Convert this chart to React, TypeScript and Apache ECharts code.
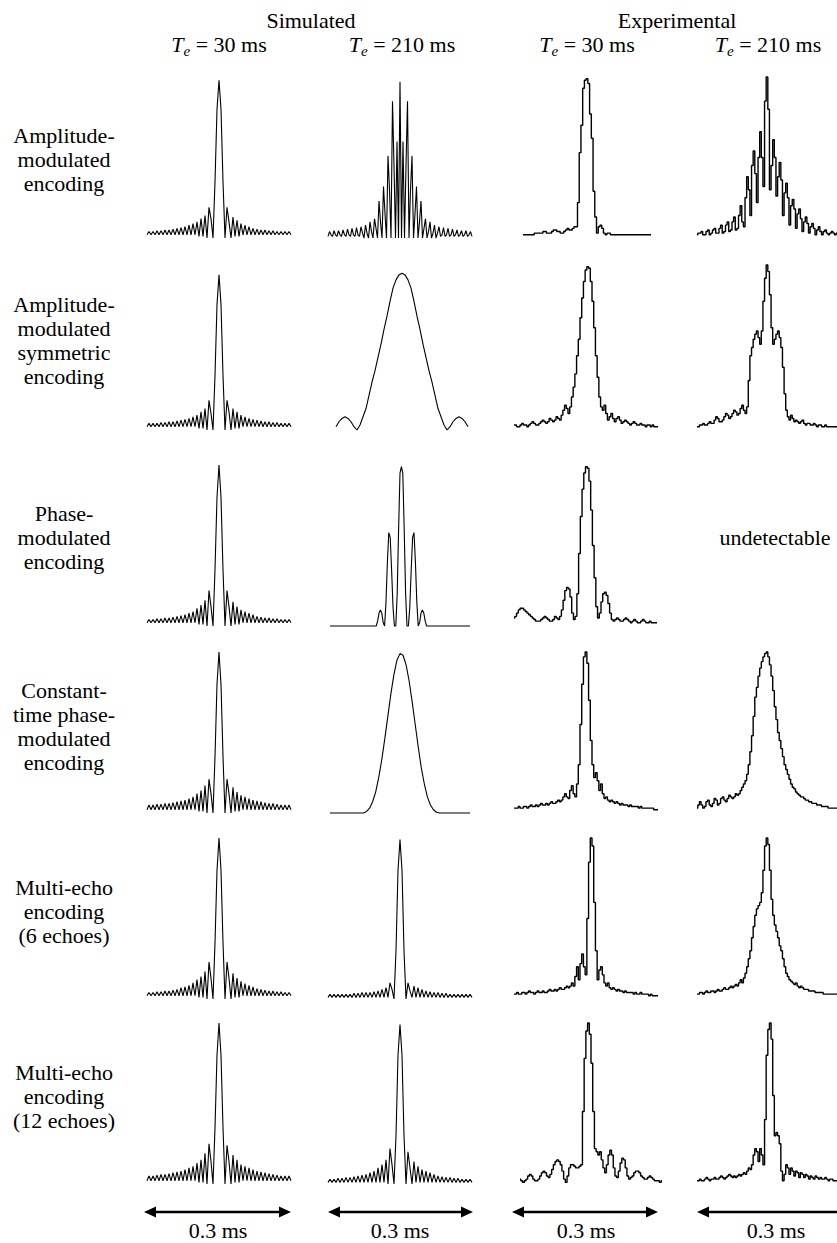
import React, { useEffect, useRef } from "react";
import * as echarts from "echarts";

// ---------- texts ----------
const GROUP_LABELS = ["Simulated", "Experimental"];
const ECHO_TIMES = ["30", "210", "30", "210"];
const ROW_LABELS = [
  "Amplitude-\nmodulated\nencoding",
  "Amplitude-\nmodulated\nsymmetric\nencoding",
  "Phase-\nmodulated\nencoding",
  "Constant-\ntime phase-\nmodulated\nencoding",
  "Multi-echo\nencoding\n(6 echoes)",
  "Multi-echo\nencoding\n(12 echoes)",
];
const SCALE_LABEL = "0.3 ms";
const MISSING_LABEL = "undetectable";

// ---------- data (normalised signal, sampled evenly across each panel) ----------
// Row 1: amplitude-modulated encoding
const amSim30 = [0.02,0.04,0.02,0.04,0.02,0.045,0.02,0.045,0.02,0.05,0.02,0.05,0.02,0.055,0.02,0.06,0.02,0.065,0.02,0.07,0.02,0.08,0.02,0.09,0.02,0.1,0.01,0.12,0.01,0.14,0.0,0.19,0.12,0.0,0.35,0.8,0.98,0.8,0.35,0.0,0.19,0.1,0.0,0.13,0.01,0.11,0.01,0.09,0.02,0.08,0.02,0.07,0.02,0.06,0.02,0.055,0.02,0.05,0.02,0.05,0.02,0.045,0.02,0.045,0.02,0.04,0.02,0.04,0.02,0.04,0.02,0.04,0.02];
const amSim210 = [0.01,0.04,0.02,0.01,0.045,0.02,0.01,0.045,0.02,0.01,0.05,0.02,0.01,0.055,0.02,0.01,0.06,0.02,0.01,0.065,0.02,0.01,0.07,0.03,0.0,0.08,0.03,0.0,0.1,0.04,
  0.0,0.12,0.06,0.0,0.23,0.1,0.0,0.32,0.15,0.0,0.51,0.3,0.0,0.85,0.45,0.0,0.6,0.0,0.97,0.0,0.6,0.0,0.45,0.85,0.0,0.3,0.51,0.0,0.15,0.32,0.0,0.1,0.23,0.0,0.06,0.12,0.0,
  0.04,0.1,0.0,0.03,0.08,0.0,0.03,0.07,0.01,0.02,0.065,0.01,0.02,0.06,0.01,0.02,0.055,0.01,0.02,0.05,0.01,0.02,0.045,0.01,0.02,0.045,0.01,0.02,0.04,0.01];
const amExp30 = [0.02,0.02,0.02,0.02,0.02,0.02,0.02,0.03,0.03,0.03,0.03,0.03,0.04,0.04,0.03,0.03,0.03,0.04,0.05,0.05,0.04,0.04,0.03,0.03,0.04,0.05,0.06,0.05,0.05,0.06,
  0.07,0.07,0.22,0.53,0.7,0.93,0.98,0.99,0.96,0.77,0.62,0.29,0.13,
  0.03,0.07,0.08,0.06,0.03,0.02,0.03,0.03,0.02,0.02,0.02,0.02,0.02,0.02,0.02,0.02,0.02,0.02,0.02,0.02,0.02,0.02,0.02,0.02,0.02,0.02,0.02,0.02,0.02,0.02,0.02,0.02];
const amExp210 = [0.02,0.03,0.03,0.04,0.02,0.02,0.04,0.05,0.02,0.03,0.05,0.06,0.03,0.03,0.06,0.08,0.03,0.04,0.08,0.1,0.04,0.05,0.1,0.13,0.05,0.06,0.14,0.2,0.1,0.07,
  0.25,0.38,0.3,0.14,0.45,0.54,0.4,0.22,0.5,0.66,0.5,0.32,0.85,1.0,0.8,0.3,0.45,0.61,0.5,0.26,0.38,0.47,0.36,0.14,0.28,0.34,0.25,0.08,0.2,0.24,
  0.18,0.06,0.15,0.18,0.12,0.04,0.1,0.13,0.09,0.03,0.07,0.09,0.06,0.02,0.05,0.07,0.04,0.02,0.04,0.05,0.03,0.02,0.03,0.04,0.03,0.02,0.03];

// Row 2: amplitude-modulated symmetric encoding
const symSim30 = [0.02,0.04,0.02,0.04,0.02,0.04,0.02,0.045,0.02,0.045,0.02,0.05,0.02,0.05,0.02,0.055,0.02,0.06,0.02,0.065,0.02,0.07,0.02,0.08,0.02,0.09,0.01,0.11,0.01,0.13,0.0,0.18,0.1,0.0,0.33,0.76,0.94,0.76,0.33,0.0,0.18,0.11,0.0,0.13,0.01,0.11,0.01,0.09,0.02,0.08,0.02,0.07,0.02,0.065,0.02,0.06,0.02,0.055,0.02,0.05,0.02,0.05,0.02,0.045,0.02,0.045,0.02,0.04,0.02,0.04,0.02,0.04,0.02];
const symSim210 = [0.02,0.05,0.07,0.08,0.07,0.05,0.02,0.0,0.03,0.08,0.13,0.21,0.29,0.36,0.44,0.52,0.61,0.69,0.78,0.86,0.91,0.94,0.95,0.94,0.91,0.86,0.78,0.69,0.61,0.52,0.44,0.36,0.29,0.21,0.13,0.08,0.03,0.0,0.02,0.05,0.07,0.08,0.07,0.05,0.02];
const symExp30 = [0.03,0.03,0.02,0.02,0.03,0.04,0.03,0.03,0.02,0.03,0.04,0.05,0.04,0.03,0.03,0.04,0.05,0.06,0.05,0.04,0.05,0.07,0.06,0.05,0.06,0.08,0.07,0.06,0.09,0.12,
  0.15,0.13,0.1,0.14,0.2,0.26,0.34,
  0.45,0.55,0.68,0.8,0.9,0.97,0.99,0.98,0.9,0.78,0.62,0.45,
  0.32,0.2,0.14,0.12,0.15,0.1,0.06,0.08,0.1,0.07,0.05,0.07,
  0.08,0.06,0.04,0.05,0.06,0.05,0.04,0.03,0.04,0.05,0.04,0.03,0.03,0.04,0.03,0.03,0.02,0.03,0.03,0.02,0.03,0.02,0.02,0.02];
const symExp210 = [0.02,0.02,0.03,0.03,0.04,0.03,0.03,0.04,0.05,0.04,0.04,0.06,0.08,0.07,0.05,0.05,0.06,0.08,0.1,0.09,0.07,0.08,0.1,0.12,0.11,
  0.09,0.1,0.13,0.15,0.12,0.1,0.14,
  0.3,0.45,0.5,0.55,0.58,0.6,0.56,
  0.52,0.6,0.78,0.92,1.0,0.96,0.82,0.62,0.52,0.55,
  0.58,0.6,0.56,0.5,0.38,0.22,0.12,0.08,
  0.06,0.09,0.07,0.05,0.06,0.05,0.04,0.05,0.06,0.04,0.03,0.04,0.04,0.03,0.03,0.04,0.03,0.02,0.03,0.03,0.02,0.02,0.03,0.02,0.02,0.02,0.02,0.02,0.02,0.02];

// Row 3: phase-modulated encoding
const phSim30 = [0.02,0.04,0.02,0.04,0.02,0.045,0.02,0.045,0.02,0.05,0.02,0.05,0.02,0.055,0.02,0.06,0.02,0.065,0.02,0.07,0.02,0.08,0.02,0.09,0.02,0.11,0.01,0.13,0.01,0.16,0.0,0.22,0.12,0.0,0.35,0.8,1.0,0.8,0.35,0.0,0.22,0.12,0.0,0.15,0.01,0.12,0.01,0.1,0.02,0.09,0.02,0.08,0.02,0.07,0.02,0.06,0.02,0.055,0.02,0.05,0.02,0.05,0.02,0.045,0.02,0.045,0.02,0.04,0.02,0.04,0.02,0.04,0.02];
const phSim210 = [0,0,0,0,0,0,0,0,0,0,0,0,0,0,0,0,0,0,0,0,0,0,0,0,0,0,0,0,0,0,0,0,0,0,
  0.03,0.08,0.1,0.08,0.02,0.0,
  0.15,0.4,0.58,0.55,0.35,0.12,0.0,0.0,
  0.2,0.6,0.95,0.99,0.95,0.6,0.2,0.0,
  0.0,0.12,0.35,0.55,0.58,0.4,0.15,0.0,
  0.02,0.08,0.1,0.08,0.03,
  0,0,0,0,0,0,0,0,0,0,0,0,0,0,0,0,0,0,0,0,0,0,0,0,0,0,0,0,0,0,0,0];
const phExp30 = [0.05,0.06,0.08,0.1,0.11,0.11,0.1,0.09,0.08,0.07,0.06,0.05,0.04,0.03,0.03,0.03,0.04,0.05,0.06,0.05,
  0.04,0.03,0.03,0.04,0.06,0.05,0.04,0.06,
  0.1,0.16,0.22,0.24,0.23,0.18,0.08,
  0.04,0.06,0.2,
  0.45,0.68,0.85,0.95,0.99,0.98,0.9,0.72,0.5,0.3,0.12,
  0.05,0.08,
  0.15,0.2,0.21,0.19,0.14,0.08,0.04,
  0.03,0.04,0.05,0.04,0.03,0.03,0.04,0.05,0.04,0.03,0.02,0.03,0.04,0.03,0.02,0.02,0.03,0.04,0.03,0.02,0.02,0.03,0.02,0.02,0.02,0.02];

// Row 4: constant-time phase-modulated encoding
const ctSim30 = [0.02,0.05,0.02,0.05,0.02,0.055,0.02,0.055,0.02,0.06,0.02,0.06,0.02,0.065,0.02,0.07,0.02,0.075,0.02,0.08,0.02,0.09,0.02,0.1,0.02,0.12,0.01,0.14,0.01,0.17,0.0,0.21,0.12,0.0,0.35,0.8,1.0,0.8,0.35,0.0,0.21,0.12,0.0,0.16,0.01,0.13,0.01,0.11,0.02,0.1,0.02,0.09,0.02,0.08,0.02,0.075,0.02,0.07,0.02,0.065,0.02,0.06,0.02,0.06,0.02,0.055,0.02,0.05,0.02,0.05,0.02,0.05,0.02];
const ctSim210 = [0,0,0,0,0,0,0,0,0,0,0,0,
  0.01,0.03,0.07,0.13,0.22,0.33,0.46,0.6,0.74,0.86,0.95,0.99,0.98,0.92,0.82,0.69,0.55,0.41,0.28,0.18,0.1,0.05,0.02,0.005,
  0,0,0,0,0,0,0,0,0,0,0];
const ctExp30 = [0.03,0.03,0.03,0.04,0.03,0.03,0.04,0.04,0.03,0.04,0.05,0.04,0.04,0.05,0.04,0.05,0.06,0.05,0.05,0.06,0.05,0.06,0.07,0.06,0.06,0.07,0.08,0.07,0.08,0.1,0.12,0.1,0.09,0.14,
  0.17,0.12,0.1,0.18,0.3,0.55,
  0.8,0.97,1.0,0.93,0.7,0.45,0.3,
  0.22,0.25,0.2,0.14,0.18,0.12,0.09,
  0.1,0.08,0.07,0.08,0.07,0.06,0.07,0.06,0.05,0.06,0.05,0.05,0.05,0.04,0.05,0.04,0.04,0.04,0.04,0.03,0.04,0.03,0.03,0.03,0.03,0.03,0.03,0.03,0.02,0.02,0.02];
const ctExp210 = [0.03,0.05,0.07,0.05,0.03,0.04,0.07,0.08,0.05,0.04,0.06,0.09,0.08,0.05,0.06,0.09,0.1,0.08,0.07,0.09,0.11,0.1,0.09,0.1,0.12,0.11,0.12,0.14,
  0.16,0.18,0.2,0.24,0.3,0.38,0.48,0.6,0.72,
  0.78,0.85,0.9,0.94,0.97,0.99,1.0,0.97,0.92,0.85,0.76,
  0.66,0.58,0.5,0.45,0.4,0.35,0.3,0.27,0.24,
  0.21,0.18,0.16,0.15,0.13,0.12,0.11,0.1,0.1,0.09,0.08,0.08,0.07,0.07,0.06,0.06,0.06,0.05,0.05,0.05,0.04,0.04,0.04,0.04,0.03,0.03,0.03,0.03,0.03,0.03];

// Row 5: multi-echo encoding (6 echoes)
const me6Sim30 = [0.02,0.04,0.02,0.04,0.02,0.045,0.02,0.045,0.02,0.05,0.02,0.05,0.02,0.055,0.02,0.06,0.02,0.07,0.02,0.075,0.02,0.085,0.02,0.1,0.02,0.12,0.01,0.14,0.01,0.17,0.0,0.23,0.13,0.0,0.35,0.8,1.0,0.8,0.35,0.0,0.23,0.13,0.0,0.16,0.01,0.13,0.01,0.11,0.02,0.095,0.02,0.085,0.02,0.075,0.02,0.065,0.02,0.06,0.02,0.055,0.02,0.05,0.02,0.05,0.02,0.045,0.02,0.045,0.02,0.04,0.02,0.04,0.02];
const me6Sim210 = [0.01,0.03,0.01,0.03,0.01,0.03,0.01,0.03,0.01,0.03,0.01,0.03,0.01,0.035,0.01,0.035,0.01,0.04,0.01,0.04,0.01,0.04,0.01,0.045,0.01,0.05,0.01,0.06,0.01,0.07,
  0.01,0.1,0.06,0.0,
  0.3,0.8,0.99,0.8,0.3,
  0.0,0.1,0.05,0.01,
  0.08,0.01,0.07,0.01,0.06,0.01,0.05,0.01,0.045,0.01,0.04,0.01,0.04,0.01,0.035,0.01,0.035,0.01,0.03,0.01,0.03,0.01,0.03,0.01,0.03,0.01,0.03,0.01,0.03,0.01];
const me6Exp30 = [0.03,0.03,0.04,0.03,0.03,0.04,0.04,0.03,0.04,0.05,0.04,0.04,0.03,0.04,0.05,0.04,0.04,0.05,0.04,0.04,0.05,0.06,0.05,0.05,0.06,0.05,0.06,0.07,0.06,0.06,0.07,0.08,0.07,0.08,0.1,0.08,
  0.14,0.2,0.12,0.22,0.28,0.2,0.15,
  0.5,0.85,1.0,0.95,0.6,0.3,0.12,0.18,
  0.2,0.15,0.1,0.08,0.1,0.07,0.06,0.07,0.06,0.05,0.06,0.05,0.05,0.04,0.05,0.04,0.04,0.04,0.04,0.03,0.04,0.03,0.03,0.04,0.03,0.03,0.03,0.03,0.02,0.03,0.02,0.02,0.02,0.02];
const me6Exp210 = [0.03,0.03,0.04,0.04,0.03,0.04,0.05,0.04,0.04,0.05,0.05,0.04,0.05,0.06,0.05,0.05,0.06,0.07,0.06,0.06,0.07,0.08,0.07,0.08,0.09,0.08,0.1,0.12,
  0.1,0.13,0.16,0.2,0.25,0.3,0.38,0.45,0.52,
  0.56,0.58,0.6,0.66,0.8,0.95,1.0,0.96,0.8,0.62,0.52,0.46,
  0.42,0.38,0.33,0.3,0.25,0.2,0.16,0.14,
  0.12,0.11,0.1,0.09,0.1,0.08,0.07,0.08,0.07,0.06,0.06,0.06,0.05,0.05,0.05,0.05,0.04,0.04,0.04,0.04,0.04,0.03,0.03,0.03,0.03,0.03,0.03,0.03,0.03,0.03];

// Row 6: multi-echo encoding (12 echoes)
const me12Sim30 = [0.02,0.05,0.02,0.05,0.02,0.055,0.02,0.06,0.02,0.06,0.02,0.065,0.02,0.07,0.02,0.075,0.02,0.08,0.02,0.09,0.02,0.1,0.02,0.11,0.02,0.13,0.01,0.15,0.01,0.19,0.0,0.25,0.14,0.0,0.35,0.8,1.0,0.8,0.35,0.0,0.24,0.14,0.0,0.18,0.01,0.15,0.01,0.12,0.02,0.11,0.02,0.1,0.02,0.09,0.02,0.08,0.02,0.075,0.02,0.07,0.02,0.065,0.02,0.06,0.02,0.055,0.02,0.05,0.02,0.05,0.02,0.05,0.02];
const me12Sim210 = [0.01,0.03,0.01,0.03,0.01,0.035,0.01,0.035,0.01,0.04,0.01,0.04,0.01,0.045,0.01,0.05,0.01,0.055,0.01,0.06,0.01,0.07,0.01,0.08,0.01,0.1,0.01,0.12,0.01,0.15,
  0.0,0.22,0.12,0.0,
  0.3,0.8,0.99,0.8,0.3,
  0.0,0.2,0.1,0.0,
  0.14,0.01,0.11,0.01,0.09,0.01,0.08,0.01,0.07,0.01,0.06,0.01,0.05,0.01,0.045,0.01,0.04,0.01,0.04,0.01,0.035,0.01,0.035,0.01,0.03,0.01,0.03,0.01,0.03,0.01];
const me12Exp30 = [0.03,0.02,0.01,0.02,0.03,0.05,0.06,0.05,0.03,0.02,0.02,0.03,0.05,
  0.07,0.08,0.07,0.05,0.04,0.06,0.09,0.12,
  0.14,0.15,0.14,0.12,0.08,0.03,0.01,0.05,
  0.1,0.12,0.12,0.11,0.1,
  0.1,0.11,0.12,0.45,0.78,0.95,1.0,0.93,0.75,0.45,
  0.22,0.2,0.18,0.2,0.15,0.1,0.07,0.12,0.18,
  0.21,0.18,0.1,0.05,0.04,0.08,0.13,0.16,
  0.15,0.1,0.05,0.03,0.04,0.05,0.07,0.08,
  0.08,0.07,0.05,0.04,0.03,0.03,0.04,0.05,0.04,0.03,0.02,0.02,0.02,0.01,0.02];
const me12Exp210 = [0.02,0.02,0.03,0.02,0.02,0.03,0.04,0.03,0.02,0.03,0.03,0.04,0.03,0.03,0.04,0.05,0.04,0.03,0.04,0.05,0.06,0.05,0.04,0.05,0.04,0.05,0.06,0.05,
  0.06,0.07,0.06,0.08,0.1,0.09,0.12,0.18,0.22,0.2,0.14,
  0.22,0.18,0.12,0.4,0.8,0.96,1.0,0.9,
  0.55,0.3,0.32,0.3,0.25,0.08,0.02,
  0.06,0.12,0.1,0.06,0.1,0.08,0.05,0.08,0.07,0.04,0.07,0.06,0.04,0.06,0.05,0.03,0.05,0.04,0.03,0.05,0.04,0.03,0.04,0.03,0.03,0.04,0.03,0.02,0.03,0.03,0.02,0.02,0.02];

// ---------- layout (pixels) ----------
const ROW_TOP = [77, 265, 465, 652, 838, 1023];
const ROW_BASE = [238, 430, 626, 813, 999, 1184];
const ROW_LABEL_Y = [159.6, 340.6, 537.6, 726.6, 911.6, 1096.6];
const COL_CENTER = [219, 402, 587, 768];
const GROUP_CENTER = [311, 677];
const ARROWS = [[144, 291], [328, 473], [512, 658], [697, 857]];
const SCALE_CENTER = [218, 400, 586, 776];

type Plot = { data: number[]; row: number; x0: number; x1: number; exp: boolean };
const PLOTS: Plot[] = [
  { data: amSim30, row: 0, x0: 147, x1: 291, exp: false },
  { data: amSim210, row: 0, x0: 328, x1: 472, exp: false },
  { data: amExp30, row: 0, x0: 523, x1: 651, exp: true },
  { data: amExp210, row: 0, x0: 697, x1: 845, exp: true },
  { data: symSim30, row: 1, x0: 147, x1: 291, exp: false },
  { data: symSim210, row: 1, x0: 336, x1: 468, exp: false },
  { data: symExp30, row: 1, x0: 514, x1: 658, exp: true },
  { data: symExp210, row: 1, x0: 697, x1: 845, exp: true },
  { data: phSim30, row: 2, x0: 147, x1: 291, exp: false },
  { data: phSim210, row: 2, x0: 330, x1: 470, exp: false },
  { data: phExp30, row: 2, x0: 514, x1: 657, exp: true },
  { data: ctSim30, row: 3, x0: 147, x1: 291, exp: false },
  { data: ctSim210, row: 3, x0: 330, x1: 470, exp: false },
  { data: ctExp30, row: 3, x0: 514, x1: 658, exp: true },
  { data: ctExp210, row: 3, x0: 697, x1: 845, exp: true },
  { data: me6Sim30, row: 4, x0: 147, x1: 291, exp: false },
  { data: me6Sim210, row: 4, x0: 328, x1: 472, exp: false },
  { data: me6Exp30, row: 4, x0: 514, x1: 658, exp: true },
  { data: me6Exp210, row: 4, x0: 697, x1: 845, exp: true },
  { data: me12Sim30, row: 5, x0: 147, x1: 291, exp: false },
  { data: me12Sim210, row: 5, x0: 328, x1: 472, exp: false },
  { data: me12Exp30, row: 5, x0: 520, x1: 662, exp: true },
  { data: me12Exp210, row: 5, x0: 697, x1: 845, exp: true },
];

const FONT = '"Liberation Serif", "Times New Roman", Times, serif';

function measure(text: string, size: number, italic: boolean): number {
  const c = document.createElement("canvas").getContext("2d");
  if (!c) return text.length * size * 0.5;
  c.font = `${italic ? "italic " : ""}${size}px ${FONT}`;
  return c.measureText(text).width;
}

function txt(text: string, x: number, y: number, size: number, opts: any = {}) {
  return {
    type: "text",
    x,
    y,
    silent: true,
    style: {
      text,
      fill: "#000",
      fontFamily: FONT,
      fontSize: size,
      fontStyle: opts.italic ? "italic" : "normal",
      textAlign: opts.align || "center",
      textVerticalAlign: "middle",
      verticalAlign: "middle",
      lineHeight: opts.lineHeight || size,
    },
  };
}

function buildOption() {
  const grid: any[] = [];
  const xAxis: any[] = [];
  const yAxis: any[] = [];
  const series: any[] = [];
  PLOTS.forEach((p, k) => {
    const top = ROW_TOP[p.row];
    const base = ROW_BASE[p.row];
    grid.push({ left: p.x0, top, width: p.x1 - p.x0, height: base - top, show: false });
    xAxis.push({ gridIndex: k, type: "value", min: 0, max: 1, show: false });
    yAxis.push({ gridIndex: k, type: "value", min: 0, max: 1, show: false });
    const n = p.data.length;
    series.push({
      type: "line",
      xAxisIndex: k,
      yAxisIndex: k,
      data: p.data.map((v, i) => [i / (n - 1), v]),
      symbol: "none",
      showSymbol: false,
      step: p.exp ? "middle" : false,
      clip: false,
      silent: true,
      lineStyle: { color: "#000", width: p.exp ? 1.4 : 1.1 },
    });
  });

  const graphic: any[] = [];
  GROUP_LABELS.forEach((g, i) => graphic.push(txt(g, GROUP_CENTER[i], 20.6, 22)));
  ECHO_TIMES.forEach((t, i) => {
    const rest = ` = ${t} ms`;
    const wT = measure("T", 22, true);
    const wE = measure("e", 15, true);
    const wR = measure(rest, 22, false);
    const x0 = COL_CENTER[i] - (wT + wE + wR) / 2;
    graphic.push(txt("T", x0, 44.6, 22, { italic: true, align: "left" }));
    graphic.push(txt("e", x0 + wT, 51, 15, { italic: true, align: "left" }));
    graphic.push(txt(rest, x0 + wT + wE, 44.6, 22, { align: "left" }));
  });
  ROW_LABELS.forEach((l, i) => graphic.push(txt(l, 64, ROW_LABEL_Y[i], 22, { lineHeight: 24 })));
  graphic.push(txt(MISSING_LABEL, 775, 537.6, 22));
  const ay = 1212;
  ARROWS.forEach(([a, b], i) => {
    graphic.push({ type: "line", silent: true, shape: { x1: a + 8, y1: ay, x2: b - 8, y2: ay }, style: { stroke: "#000", lineWidth: 2.5 } });
    graphic.push({ type: "polygon", silent: true, shape: { points: [[a, ay], [a + 12, ay - 5.5], [a + 12, ay + 5.5]] }, style: { fill: "#000" } });
    graphic.push({ type: "polygon", silent: true, shape: { points: [[b, ay], [b - 12, ay - 5.5], [b - 12, ay + 5.5]] }, style: { fill: "#000" } });
    graphic.push(txt(SCALE_LABEL, SCALE_CENTER[i], 1230.5, 22));
  });

  return { animation: false, backgroundColor: "#fff", grid, xAxis, yAxis, series, graphic };
}

export default function App() {
  const ref = useRef<HTMLDivElement>(null);
  useEffect(() => {
    if (!ref.current) return;
    const chart = echarts.init(ref.current, null, { renderer: "svg" });
    chart.setOption(buildOption() as any);
    return () => chart.dispose();
  }, []);
  return (
    <div
      ref={ref}
      style={{ position: "absolute", left: 0, top: 0, width: 837, height: 1243, background: "#fff" }}
    />
  );
}
